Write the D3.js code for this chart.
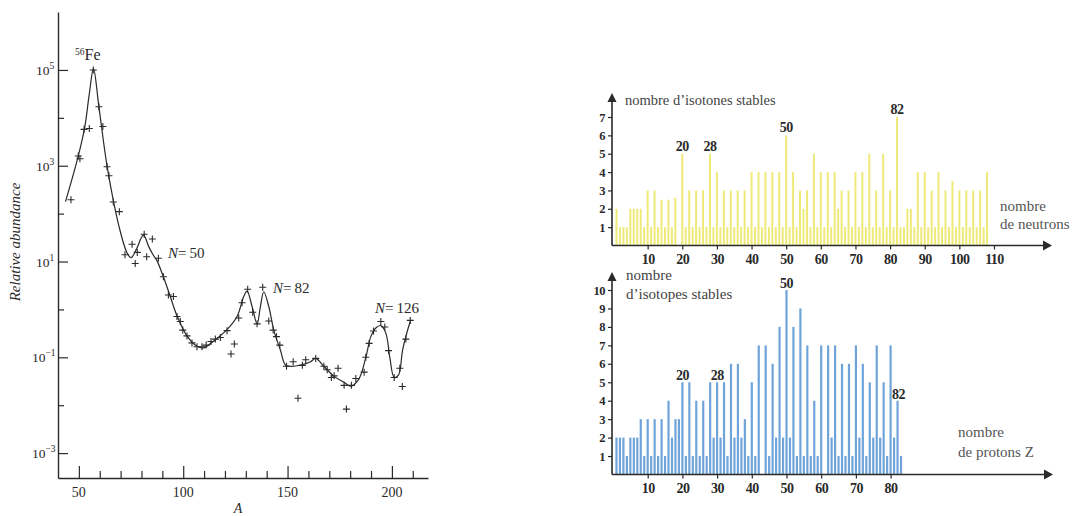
<!DOCTYPE html>
<html><head><meta charset="utf-8">
<script src="https://cdn.jsdelivr.net/npm/d3@7"></script>
<style>
body{margin:0;background:#fff;}
svg{display:block;}
text{font-family:"Liberation Serif","DejaVu Serif",serif;}
</style>
</head><body>
<svg id="c" width="1075" height="516"></svg>
<script>
// ---------- Left chart: relative abundance vs mass number A ----------
const pointA = [46.2,49.7,50.5,52.5,55,56.9,59.6,61.5,63.5,64.4,66.5,69.4,72.1,75.5,77,78,81.3,82.5,85.2,88.1,
  90.5,92.9,95.3,97,98.6,99.8,101.8,104.2,106.6,109,111,113.3,115.4,117.8,121,122.9,124.5,126.6,128.2,130.9,
  133.3,135.4,138.1,141,143.1,144.7,146.3,149.5,152.7,155,157.1,158.7,163.5,167.4,169,171,172.3,174.2,177.1,178.2,
  180.6,182.7,186.7,187.5,189.1,191.2,194.7,196.6,198.4,201.1,203.8,205,206.7,208.8];
const pointAbund = [195,1600,1400,5750,6000,100000,17000,6600,950,620,175,110,13.8,23,9.1,15.5,37,12.6,29.5,11.7,
  4.8,2.0,1.86,0.71,0.56,0.37,0.28,0.2,0.166,0.166,0.18,0.214,0.24,0.26,0.36,0.117,0.19,0.66,1.38,2.63,
  0.87,0.5,2.9,0.575,0.37,0.27,0.18,0.065,0.081,0.014,0.068,0.089,0.095,0.065,0.055,0.038,0.041,0.059,0.026,0.0083,
  0.026,0.036,0.049,0.1,0.195,0.355,0.56,0.43,0.138,0.038,0.059,0.0245,0.24,0.59];
const curveA = [43.6,49.7,52.8,55,57,59.6,63.3,66.5,69.7,72.9,75,77.7,80.9,83.6,85.7,87.3,90.5,93.8,97,101.8,
  106.6,109.8,114.6,121,125.8,129,130.6,133,135.4,137,138.6,141,143.4,146.6,149,151.4,156.3,161,163.5,167.4,
  172.3,177.1,180.3,184.3,187.5,189.9,192.3,194.7,197.1,199,201.1,203.2,205.1,207.2,208.8];
const curveAbund = [178,1585,6300,31600,107000,17000,1120,190,45,15.8,12,18.6,35.5,20,13.5,10.7,4.8,1.86,0.74,0.28,
  0.17,0.158,0.22,0.38,0.71,1.86,2.4,1.15,0.5,1.15,2.34,1.15,0.37,0.14,0.069,0.065,0.069,0.081,0.095,0.065,
  0.04,0.03,0.025,0.036,0.1,0.27,0.41,0.46,0.32,0.10,0.038,0.043,0.14,0.33,0.56];
const leftXMajor = [50,100,150,200];
const leftXMinor = [60,70,80,90,110,120,130,140,160,170,180,190,210];
const leftYExp = [5,3,1,-1,-3];
const leftYMinorExp = [4,2,0,-2];
const leftNotes = [["N","=\u200950"],["N","=\u200982"],["N","=\u2009126"]];

// ---------- Right top: stable isotones per neutron number N ----------
const neutronN = d3.range(1,109);
const isotones = [2,1,1,1,2,2,2,2,1,3, 1,3,1,2.5,1,2.5,1,2.6,0,5,
  1,3,1,3,1,3,1,5,1,4, 1,3,1,3,1,3,1,3,1,4, 1,4,1,4,1,4,1,4,1,6,
  1,4,1,3,2,3,1,5,1,4, 1,4,1,4,2,3,1,3,1,4, 1,4,1,5,1,3,1,5,1,3,
  1,7,1,1,2,2,1,4,1,4, 1,3,1,4,1,3,1,3.5,1,3, 1,3,1,3,1,3,1,4];
const neutronTicks = [10,20,30,40,50,60,70,80,90,100,110];
const isotoneTicks = [1,2,3,4,5,6,7];
const neutronMagic = [20,28,50,82];

// ---------- Right bottom: stable isotopes per proton number Z ----------
const protonZ = d3.range(1,84);
const isotopes = [2,2,2,1,2,2,2,3,1,3, 1,3,1,3,1,4,2,3,3,5, 1,5,1,4,1,4,1,5,2,5,
  2,5,1,6,2,6,2,3,1,5, 1,7,0,7,1,6,2,8,2,10, 2,8,1,9,1,7,1,4,1,7,
  0,7,2,7,1,6,1,6,1,7, 2,6,1,5,2,7,2,5,1,7, 2,4,1];
const protonTicks = [10,20,30,40,50,60,70,80];
const isotopeTicks = [1,2,3,4,5,6,7,8,9,10];
const protonMagic = [20,28,50,82];

const svg = d3.select("#c");
svg.append("rect").attr("width",1075).attr("height",516).attr("fill","#fff");
const ink = "#2a2a2a";

// ======== LEFT CHART ========
const xL = d3.scaleLinear().domain([40,217.3]).range([58,428]);
const yL = d3.scaleLog().domain([Math.pow(10,-3.52),Math.pow(10,6.21)]).range([478,12]);
const gL = svg.append("g");

function styleAxis(sel){
  sel.selectAll("path.domain").attr("stroke",ink).attr("stroke-width",1.4);
  sel.selectAll(".tick line").attr("stroke",ink).attr("stroke-width",1.2);
}
gL.append("g").attr("transform","translate(58,0)")
  .call(d3.axisLeft(yL).tickValues(leftYExp.map(e=>Math.pow(10,e))).tickSize(-10).tickSizeOuter(0).tickFormat(""))
  .call(styleAxis);
gL.append("g").attr("transform","translate(58,0)")
  .call(d3.axisLeft(yL).tickValues(leftYMinorExp.map(e=>Math.pow(10,e))).tickSize(-6).tickSizeOuter(0).tickFormat(""))
  .call(s=>s.select(".domain").remove()).call(styleAxis);
gL.append("g").attr("transform","translate(0,478)")
  .call(d3.axisBottom(xL).tickValues(leftXMajor).tickSize(-12).tickSizeOuter(0).tickFormat(""))
  .call(styleAxis);
gL.append("g").attr("transform","translate(0,478)")
  .call(d3.axisBottom(xL).tickValues(leftXMinor).tickSize(-7).tickSizeOuter(0).tickFormat(""))
  .call(s=>s.select(".domain").remove()).call(styleAxis);

// y tick labels with superscripts
leftYExp.forEach(e=>{
  const t = gL.append("text").attr("x", e<0?32:36).attr("y", yL(Math.pow(10,e))+5)
    .attr("fill",ink).attr("font-size",13.5);
  t.append("tspan").text("10");
  t.append("tspan").attr("dy",-6).attr("font-size",9.5).text(e<0?"\u2212"+(-e):String(e));
});
// x tick labels
gL.selectAll("text.xl").data(leftXMajor).enter().append("text")
  .attr("x",d=>xL(d)).attr("y",497).attr("text-anchor","middle")
  .attr("font-size",14).attr("fill",ink).text(d=>d);
// axis titles
gL.append("text").attr("x",238).attr("y",513).attr("text-anchor","middle")
  .attr("font-size",14).attr("font-style","italic").attr("fill",ink).text("A");
gL.append("text").attr("transform","translate(20,242) rotate(-90)").attr("text-anchor","middle")
  .attr("font-size",15).attr("font-style","italic").attr("fill",ink).text("Relative abundance");

// curve
const line = d3.line().x(d=>xL(d[0])).y(d=>yL(d[1])).curve(d3.curveCatmullRom.alpha(0.5));
gL.append("path").datum(curveA.map((a,i)=>[a,curveAbund[i]]))
  .attr("d",line).attr("fill","none").attr("stroke",ink).attr("stroke-width",1.2);
// crosses
gL.selectAll("path.pt").data(pointA.map((a,i)=>[a,pointAbund[i]])).enter().append("path")
  .attr("transform",d=>`translate(${xL(d[0])},${yL(d[1])})`)
  .attr("d","M-3.5,0H3.5M0,-3.5V3.5").attr("stroke",ink).attr("stroke-width",1.1);

// annotations
const fe = gL.append("text").attr("x",75).attr("y",60).attr("fill",ink);
fe.append("tspan").attr("font-size",9.5).attr("dy",-5).text("56");
fe.append("tspan").attr("font-size",16).attr("dy",5).text("Fe");
const notePos = [[168,258],[273,293],[375,313]];
leftNotes.forEach((n,i)=>{
  const t = gL.append("text").attr("x",notePos[i][0]).attr("y",notePos[i][1]).attr("font-size",15).attr("fill",ink);
  t.append("tspan").attr("font-style","italic").text(n[0]);
  t.append("tspan").text(n[1]);
});

// ======== RIGHT CHARTS ========
function arrowAxes(g, x0, y0, yTop, xEnd){
  g.append("line").attr("x1",x0).attr("x2",x0).attr("y1",y0).attr("y2",yTop+6).attr("stroke",ink).attr("stroke-width",1.6);
  g.append("path").attr("d",`M${x0},${yTop}L${x0-4.5},${yTop+9}L${x0+4.5},${yTop+9}Z`).attr("fill",ink);
  g.append("line").attr("x1",x0).attr("x2",xEnd-6).attr("y1",y0).attr("y2",y0).attr("stroke",ink).attr("stroke-width",1.6);
  g.append("path").attr("d",`M${xEnd},${y0}L${xEnd-9},${y0-5}L${xEnd-9},${y0+5}Z`).attr("fill",ink);
}
function styleTicks(sel,fs){
  sel.select(".domain").remove();
  sel.selectAll(".tick line").attr("stroke",ink).attr("stroke-width",1.2);
  sel.selectAll(".tick text").attr("fill",ink).attr("font-size",fs).attr("font-weight","bold")
    .attr("font-family","'Liberation Serif',serif").attr("letter-spacing","-0.5");
}
const fmt = d3.format("d");

// top chart
const xT = d3.scaleLinear().domain([0,110]).range([613,994]);
const yT = d3.scaleLinear().domain([0,7]).range([245.5,117]);
const gT = svg.append("g");
gT.selectAll("line.bar").data(neutronN).enter().append("line")
  .attr("x1",d=>xT(d)).attr("x2",d=>xT(d)).attr("y1",yT(0))
  .attr("y2",(d,i)=>yT(isotones[i])).attr("stroke","#efe978").attr("stroke-width",2)
  .attr("display",(d,i)=>isotones[i]>0?null:"none");
arrowAxes(gT,612,245.5,93,1052);
gT.append("g").attr("transform","translate(612,0)")
  .call(d3.axisLeft(yT).tickValues(isotoneTicks).tickFormat(fmt).tickSize(4).tickPadding(3)).call(s=>styleTicks(s,12.5));
gT.append("g").attr("transform","translate(0,245.5)")
  .call(d3.axisBottom(xT).tickValues(neutronTicks).tickFormat(fmt).tickSize(4).tickPadding(5)).call(s=>styleTicks(s,14));
neutronMagic.forEach(n=>{
  gT.append("text").attr("x",xT(n)).attr("y",yT(isotones[n-1])-3).attr("text-anchor","middle")
    .attr("font-size",14).attr("font-weight","bold").attr("letter-spacing","-0.5").attr("fill",ink).text(n);
});
gT.append("text").attr("x",625).attr("y",105).attr("font-size",14.5).attr("fill","#444").text("nombre d\u2019isotones stables");
gT.append("text").attr("x",1000).attr("y",211).attr("font-size",15).attr("fill","#555").text("nombre");
gT.append("text").attr("x",1000).attr("y",229).attr("font-size",15).attr("fill","#555").text("de neutrons");

// bottom chart
const xB = d3.scaleLinear().domain([0,80]).range([613,890.6]);
const yB = d3.scaleLinear().domain([0,10]).range([474.5,290]);
const gB = svg.append("g");
gB.selectAll("line.bar").data(protonZ).enter().append("line")
  .attr("x1",d=>xB(d)).attr("x2",d=>xB(d)).attr("y1",yB(0))
  .attr("y2",(d,i)=>yB(isotopes[i])).attr("stroke","#6fa4da").attr("stroke-width",2.2)
  .attr("display",(d,i)=>isotopes[i]>0?null:"none");
arrowAxes(gB,612,474.5,272,1053);
gB.append("g").attr("transform","translate(612,0)")
  .call(d3.axisLeft(yB).tickValues(isotopeTicks).tickFormat(fmt).tickSize(4).tickPadding(3)).call(s=>styleTicks(s,12.5));
gB.append("g").attr("transform","translate(0,474.5)")
  .call(d3.axisBottom(xB).tickValues(protonTicks).tickFormat(fmt).tickSize(4).tickPadding(5)).call(s=>styleTicks(s,14));
const protonLabelDx = {20:0,28:7,50:0,82:1};
protonMagic.forEach(z=>{
  gB.append("text").attr("x",xB(z)+protonLabelDx[z]).attr("y",yB(isotopes[z-1])-2).attr("text-anchor","middle")
    .attr("font-size",14).attr("font-weight","bold").attr("letter-spacing","-0.5").attr("fill",ink).text(z);
});
gB.append("text").attr("x",626).attr("y",280).attr("font-size",15).attr("fill","#444").text("nombre");
gB.append("text").attr("x",626).attr("y",299).attr("font-size",15).attr("fill","#444").text("d\u2019isotopes stables");
gB.append("text").attr("x",958).attr("y",437).attr("font-size",15).attr("fill","#555").text("nombre");
gB.append("text").attr("x",958).attr("y",457).attr("font-size",15).attr("fill","#555").text("de protons Z");
</script>
</body></html>
